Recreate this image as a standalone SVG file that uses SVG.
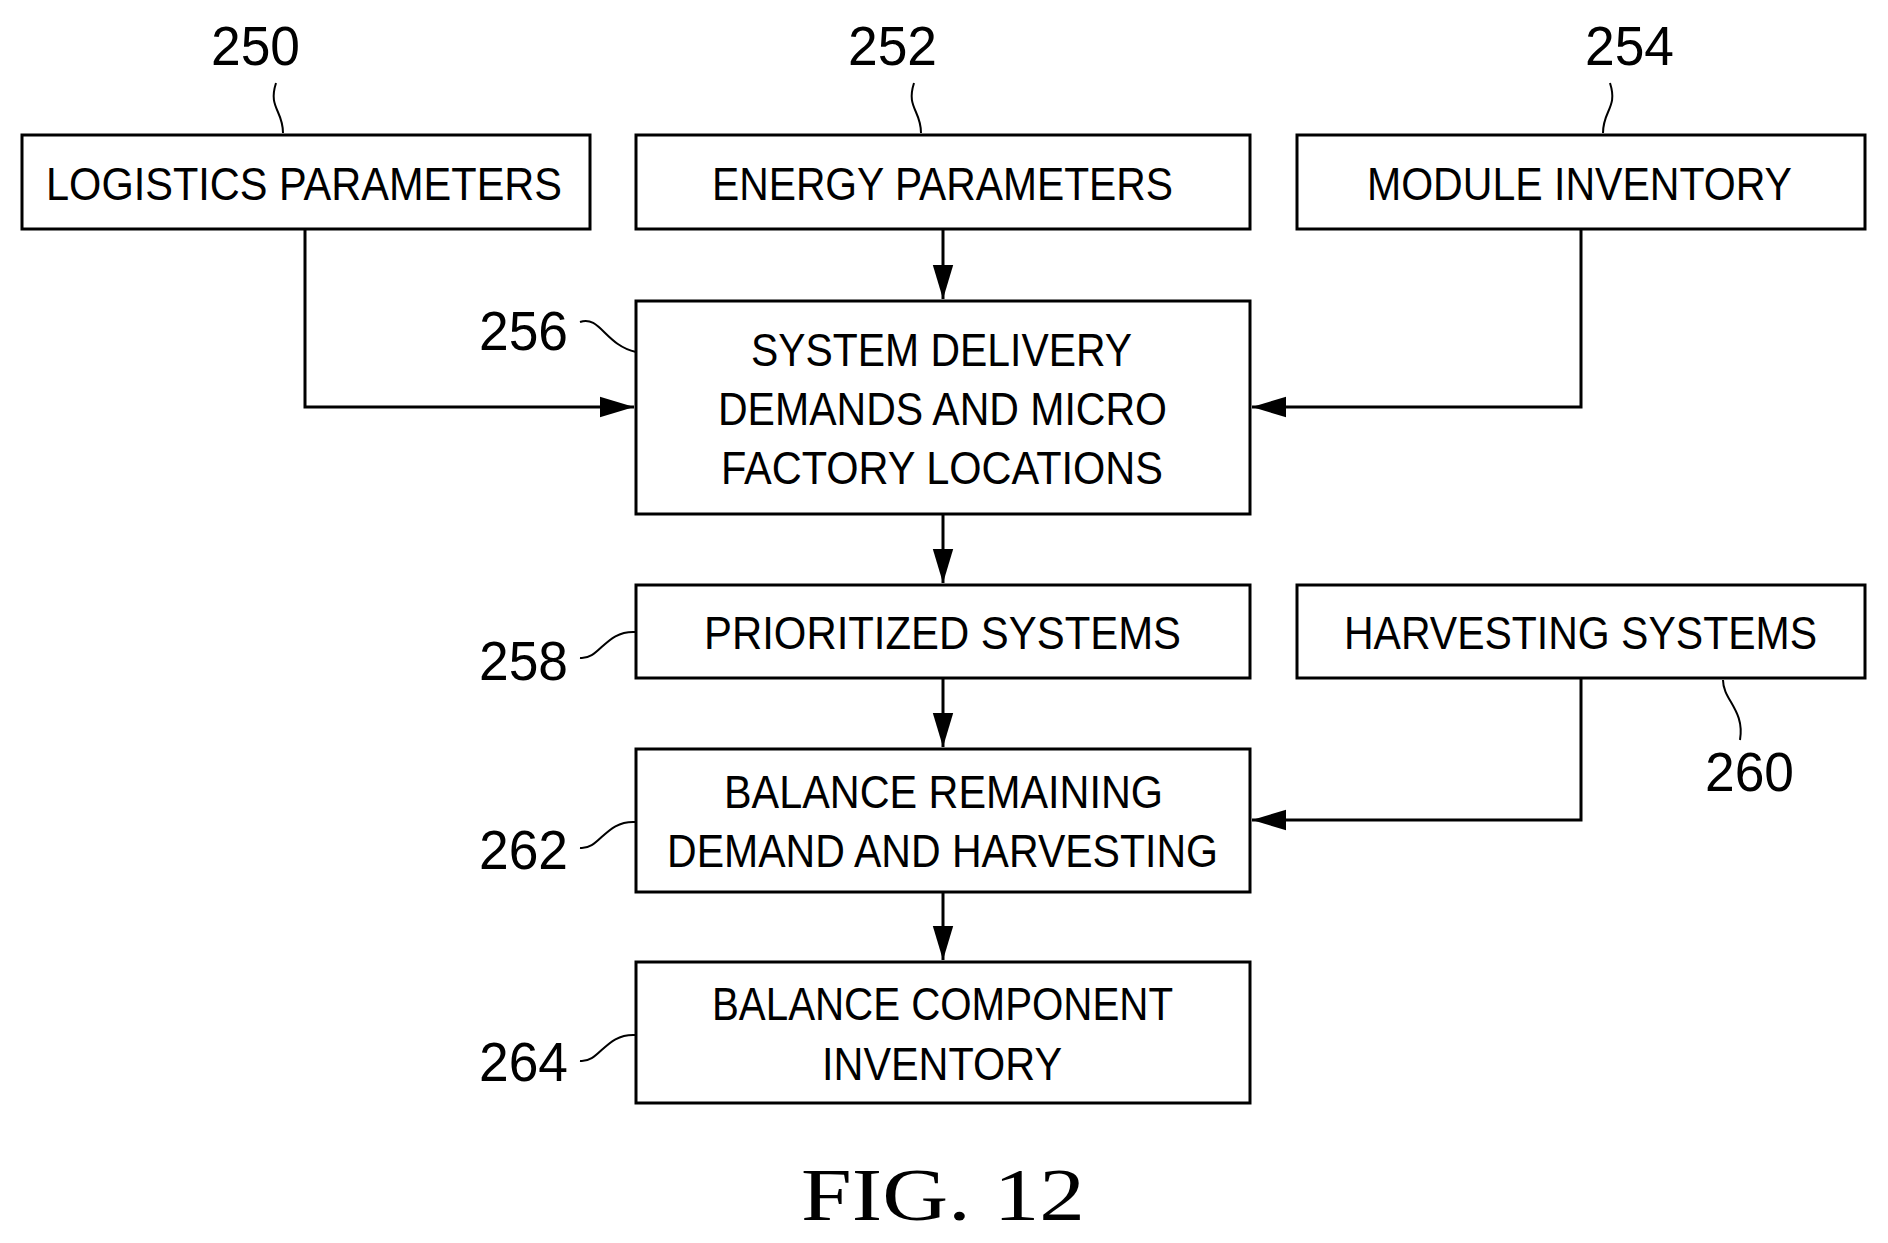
<svg xmlns="http://www.w3.org/2000/svg" width="1888" height="1243" viewBox="0 0 1888 1243">
<style>
.b{fill:#fff;stroke:#000;stroke-width:3}
.t{font-family:"Liberation Sans",Arial,sans-serif;font-size:46px;fill:#000;font-stretch:condensed}
.n{font-family:"Liberation Sans",Arial,sans-serif;font-size:56px;fill:#000}
.c{fill:none;stroke:#000;stroke-width:3}
.l{fill:none;stroke:#000;stroke-width:2}
</style>
<defs><marker id="a" viewBox="0 0 10 10" refX="10" refY="5" markerWidth="11" markerHeight="11" markerUnits="userSpaceOnUse" orient="auto"><path d="M0,0 L10,5 L0,10 z" fill="#000"/></marker>
<marker id="a2" viewBox="0 0 10 10" refX="10" refY="5" markerWidth="34" markerHeight="34" markerUnits="userSpaceOnUse" orient="auto"><path d="M0,2 L10,5 L0,8 z" fill="#000"/></marker></defs>
<g id="connectors">
<path class="c" marker-end="url(#a2)" d="M305,229 V407 H634"/>
<path class="c" marker-end="url(#a2)" d="M943,229 V299"/>
<path class="c" marker-end="url(#a2)" d="M1581,229 V407 H1252"/>
<path class="c" marker-end="url(#a2)" d="M943,514 V583"/>
<path class="c" marker-end="url(#a2)" d="M943,678 V747"/>
<path class="c" marker-end="url(#a2)" d="M1581,678 V820 H1252"/>
<path class="c" marker-end="url(#a2)" d="M943,892 V960"/>
<path class="l" d="M283,133 C283,110 268,108 276,83"/>
<path class="l" d="M921,133 C921,110 906,108 914,83"/>
<path class="l" d="M1603,133 C1603,110 1618,108 1610,83"/>
<path class="l" d="M580,322 C600,315 605,345 636,352"/>
<path class="l" d="M580,658 C600,660 605,630 636,632"/>
<path class="l" d="M580,848 C600,850 605,820 636,822"/>
<path class="l" d="M580,1061 C600,1063 605,1033 636,1035"/>
<path class="l" d="M1723,680 C1723,700 1745,710 1740,740"/>
</g>
<g id="n250"><rect class="b" x="22" y="135" width="568" height="94"/><text class="t" x="46" y="200" textLength="516" lengthAdjust="spacingAndGlyphs">LOGISTICS PARAMETERS</text><text class="n" x="211" y="65" textLength="89" lengthAdjust="spacingAndGlyphs">250</text></g>
<g id="n252"><rect class="b" x="636" y="135" width="614" height="94"/><text class="t" x="712" y="200" textLength="461" lengthAdjust="spacingAndGlyphs">ENERGY PARAMETERS</text><text class="n" x="848" y="65" textLength="89" lengthAdjust="spacingAndGlyphs">252</text></g>
<g id="n254"><rect class="b" x="1297" y="135" width="568" height="94"/><text class="t" x="1367" y="200" textLength="425" lengthAdjust="spacingAndGlyphs">MODULE INVENTORY</text><text class="n" x="1585" y="65" textLength="89" lengthAdjust="spacingAndGlyphs">254</text></g>
<g id="n256"><rect class="b" x="636" y="301" width="614" height="213"/><text class="t" x="751" y="366" textLength="381" lengthAdjust="spacingAndGlyphs">SYSTEM DELIVERY</text><text class="t" x="718" y="425" textLength="449" lengthAdjust="spacingAndGlyphs">DEMANDS AND MICRO</text><text class="t" x="721" y="484" textLength="442" lengthAdjust="spacingAndGlyphs">FACTORY LOCATIONS</text><text class="n" x="479" y="350" textLength="89" lengthAdjust="spacingAndGlyphs">256</text></g>
<g id="n258"><rect class="b" x="636" y="585" width="614" height="93"/><text class="t" x="704" y="649" textLength="477" lengthAdjust="spacingAndGlyphs">PRIORITIZED SYSTEMS</text><text class="n" x="479" y="680" textLength="89" lengthAdjust="spacingAndGlyphs">258</text></g>
<g id="n260"><rect class="b" x="1297" y="585" width="568" height="93"/><text class="t" x="1344" y="649" textLength="473" lengthAdjust="spacingAndGlyphs">HARVESTING SYSTEMS</text><text class="n" x="1705" y="791" textLength="89" lengthAdjust="spacingAndGlyphs">260</text></g>
<g id="n262"><rect class="b" x="636" y="749" width="614" height="143"/><text class="t" x="724" y="808" textLength="439" lengthAdjust="spacingAndGlyphs">BALANCE REMAINING</text><text class="t" x="667" y="867" textLength="551" lengthAdjust="spacingAndGlyphs">DEMAND AND HARVESTING</text><text class="n" x="479" y="869" textLength="89" lengthAdjust="spacingAndGlyphs">262</text></g>
<g id="n264"><rect class="b" x="636" y="962" width="614" height="141"/><text class="t" x="712" y="1020" textLength="461" lengthAdjust="spacingAndGlyphs">BALANCE COMPONENT</text><text class="t" x="822" y="1080" textLength="240" lengthAdjust="spacingAndGlyphs">INVENTORY</text><text class="n" x="479" y="1081" textLength="89" lengthAdjust="spacingAndGlyphs">264</text></g>
<text x="943" y="1220" text-anchor="middle" font-family="'Liberation Serif','Times New Roman',serif" font-size="74" textLength="284" lengthAdjust="spacingAndGlyphs">FIG. 12</text>
</svg>
